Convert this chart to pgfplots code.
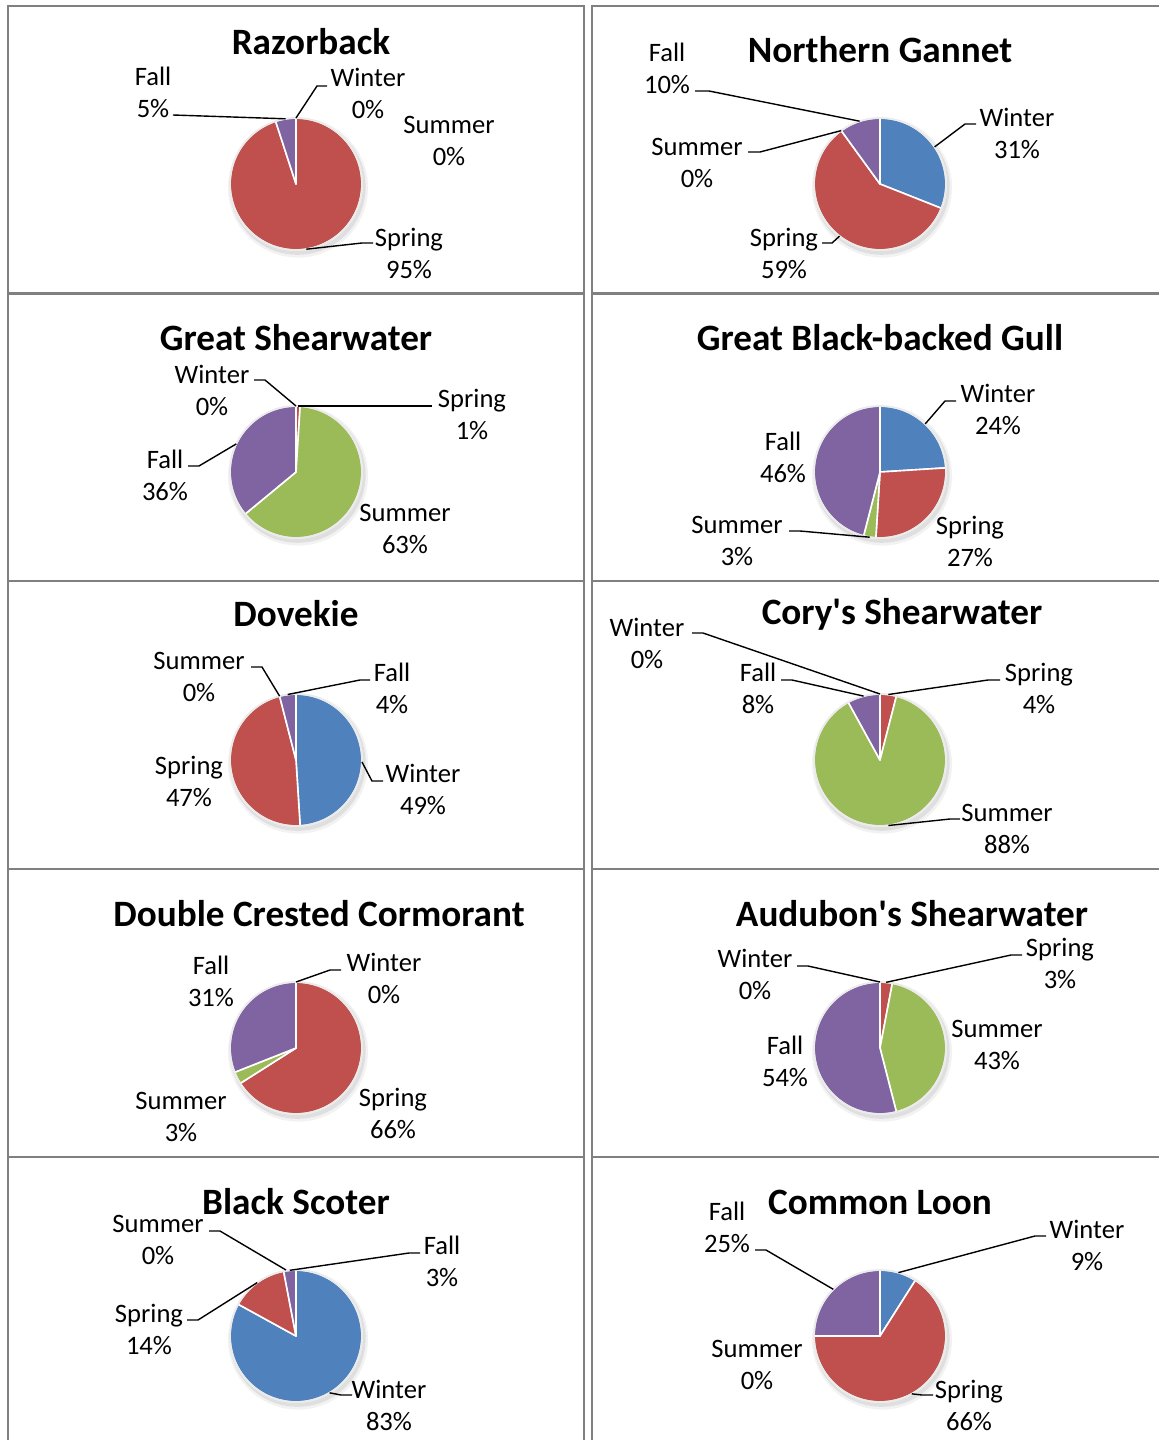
\documentclass[border=0pt]{standalone}
\usepackage{fontspec}
\setmainfont{Carlito}
\usepackage{pgfplots}
\pgfplotsset{compat=1.18}

\definecolor{winter}{HTML}{4F81BD}
\definecolor{spring}{HTML}{C0504D}
\definecolor{summer}{HTML}{9BBB59}
\definecolor{fall}{HTML}{8064A2}
\definecolor{frame}{RGB}{128,128,128}

\newcommand\lab{\fontsize{13.3}{16}\selectfont}
\newcommand\ttl{\fontsize{18.6}{22}\selectfont\bfseries}

% one slice: centre x, centre y, start (%), value (%), colour
\newcommand\slice[5]{%
  \ifdim #4pt>0pt
    \pgfmathsetmacro\angA{90-3.6*(#3+#4)}%
    \pgfmathsetmacro\angB{90-3.6*(#3)}%
    \edef\temp{\noexpand\addplot[fill=#5, draw=white, line width=0.8pt,
      line join=round, domain=\angA:\angB, samples=90]
      ({#1+66*cos(x)},{#2-66*sin(x)}) -- (axis cs:#1,#2) -- cycle;}%
    \temp
  \fi}

% pie: centre x, centre y, winter, spring, summer, fall (%)
\newcommand\pie[6]{%
  \fill[black, opacity=0.05] ([xshift=1pt,yshift=-1.8pt]axis cs:#1,#2) circle[radius=35pt];
  \fill[black, opacity=0.08] ([xshift=0.8pt,yshift=-1.4pt]axis cs:#1,#2) circle[radius=34pt];
  \slice{#1}{#2}{0}{#3}{winter}%
  \slice{#1}{#2}{#3}{#4}{spring}%
  \pgfmathsetmacro\cumC{#3+#4}%
  \slice{#1}{#2}{\cumC}{#5}{summer}%
  \pgfmathsetmacro\cumD{#3+#4+#5}%
  \slice{#1}{#2}{\cumD}{#6}{fall}%
  \draw[white!92!black, line width=0.9pt] (axis cs:#1,#2) circle[radius=33pt];
}

% cell frame: top y
\newcommand\cells[1]{%
  \draw[frame, line width=1pt] (axis cs:8,#1) rectangle (axis cs:584,#1+288);
  \draw[frame, line width=1pt] (axis cs:592,#1) rectangle (axis cs:1170,#1+288);}

\tikzset{ll/.style={black, line width=0.7pt},
         lb/.style={font=\lab, align=center, inner sep=0pt},
         tt/.style={font=\ttl, inner sep=0pt}}

\begin{document}
\begin{tikzpicture}
\begin{axis}[
    width=579pt, height=720pt, scale only axis,
    xmin=0, xmax=1158, ymin=0, ymax=1440, y dir=reverse,
    hide axis, clip=false,
]
\cells{6}\cells{293}\cells{581}\cells{869}\cells{1157}

% Razorback
\pie{296}{184}{0}{95}{0}{5}
\node[tt] at (axis cs:311,42) {Razorback};
\node[lb] at (axis cs:153,92) {Fall\\5\%};
\node[lb] at (axis cs:368,93) {Winter\\0\%};
\node[lb] at (axis cs:449,141) {Summer\\0\%};
\node[lb] at (axis cs:409,253) {Spring\\95\%};
\draw[ll] (axis cs:173,115) -- (axis cs:285.7,118.8);
\draw[ll] (axis cs:327,86) -- (axis cs:317,86) -- (axis cs:296,118);
\draw[ll] (axis cs:373,243) -- (axis cs:362,243) -- (axis cs:306.3,249.2);

% Northern Gannet
\pie{880}{184}{31}{59}{0}{10}
\node[tt] at (axis cs:880,50) {Northern Gannet};
\node[lb] at (axis cs:667,68) {Fall\\10\%};
\node[lb] at (axis cs:697,163) {Summer\\0\%};
\node[lb] at (axis cs:1017,133) {Winter\\31\%};
\node[lb] at (axis cs:784,253) {Spring\\59\%};
\draw[ll] (axis cs:695,91) -- (axis cs:709,91) -- (axis cs:859.6,121.2);
\draw[ll] (axis cs:748,152) -- (axis cs:760,152) -- (axis cs:841.2,130.6);
\draw[ll] (axis cs:976,124) -- (axis cs:965,124) -- (axis cs:934.6,146.9);
\draw[ll] (axis cs:822,243) -- (axis cs:832,243) -- (axis cs:839.5,236.2);

% Great Shearwater
\pie{296}{472}{0}{1}{63}{36}
\node[tt] at (axis cs:296,338) {Great Shearwater};
\node[lb] at (axis cs:212,390) {Winter\\0\%};
\node[lb] at (axis cs:472,414) {Spring\\1\%};
\node[lb] at (axis cs:165,475) {Fall\\36\%};
\node[lb] at (axis cs:405,529) {Summer\\63\%};
\draw[ll] (axis cs:254,380) -- (axis cs:265,380) -- (axis cs:296,406);
\draw[ll] (axis cs:432,406) -- (axis cs:298,406);
\draw[ll] (axis cs:188,466) -- (axis cs:199,466) -- (axis cs:236.3,443.9);

% Great Black-backed Gull
\pie{880}{472}{24}{27}{3}{46}
\node[tt] at (axis cs:880,338) {Great Black-backed Gull};
\node[lb] at (axis cs:998,409) {Winter\\24\%};
\node[lb] at (axis cs:783,457) {Fall\\46\%};
\node[lb] at (axis cs:737,541) {Summer\\3\%};
\node[lb] at (axis cs:970,541) {Spring\\27\%};
\draw[ll] (axis cs:956,401) -- (axis cs:945,401) -- (axis cs:925.2,423.9);
\draw[ll] (axis cs:789,531) -- (axis cs:800,531) -- (axis cs:869.7,537.2);

% Dovekie
\pie{296}{760}{49}{47}{0}{4}
\node[tt] at (axis cs:296,614) {Dovekie};
\node[lb] at (axis cs:199,677) {Summer\\0\%};
\node[lb] at (axis cs:392,688) {Fall\\4\%};
\node[lb] at (axis cs:189,781) {Spring\\47\%};
\node[lb] at (axis cs:423,789) {Winter\\49\%};
\draw[ll] (axis cs:251,667) -- (axis cs:262,667) -- (axis cs:279.6,696.1);
\draw[ll] (axis cs:370,680) -- (axis cs:360,680) -- (axis cs:287.7,694.5);
\draw[ll] (axis cs:383,781) -- (axis cs:372,781) -- (axis cs:362,762);

% Cory's Shearwater
\pie{880}{760}{0}{4}{88}{8}
\node[tt] at (axis cs:902,614) {Cory\textquotesingle s Shearwater};
\node[lb] at (axis cs:647,643) {Winter\\0\%};
\node[lb] at (axis cs:758,688) {Fall\\8\%};
\node[lb] at (axis cs:1039,688) {Spring\\4\%};
\node[lb] at (axis cs:1007,829) {Summer\\88\%};
\draw[ll] (axis cs:692,633) -- (axis cs:703,633) -- (axis cs:880,694);
\draw[ll] (axis cs:781,680) -- (axis cs:792,680) -- (axis cs:863.6,696.1);
\draw[ll] (axis cs:1000,680) -- (axis cs:988,680) -- (axis cs:888.3,694.5);
\draw[ll] (axis cs:960,819) -- (axis cs:950,819) -- (axis cs:888.3,825.5);

% Double Crested Cormorant
\pie{296}{1048}{0}{66}{3}{31}
\node[tt] at (axis cs:319,914) {Double Crested Cormorant};
\node[lb] at (axis cs:211,981) {Fall\\31\%};
\node[lb] at (axis cs:384,978) {Winter\\0\%};
\node[lb] at (axis cs:181,1117) {Summer\\3\%};
\node[lb] at (axis cs:393,1113) {Spring\\66\%};
\draw[ll] (axis cs:341,970) -- (axis cs:330,970) -- (axis cs:296,982);

% Audubon's Shearwater
\pie{880}{1048}{0}{3}{43}{54}
\node[tt] at (axis cs:912,914) {Audubon\textquotesingle s Shearwater};
\node[lb] at (axis cs:755,974) {Winter\\0\%};
\node[lb] at (axis cs:1060,963) {Spring\\3\%};
\node[lb] at (axis cs:997,1045) {Summer\\43\%};
\node[lb] at (axis cs:785,1061) {Fall\\54\%};
\draw[ll] (axis cs:797,966) -- (axis cs:808,966) -- (axis cs:880,982);
\draw[ll] (axis cs:1022,955) -- (axis cs:1011,955) -- (axis cs:886.2,982.3);

% Black Scoter
\pie{296}{1336}{83}{14}{0}{3}
\node[tt] at (axis cs:296,1202) {Black Scoter};
\node[lb] at (axis cs:158,1240) {Summer\\0\%};
\node[lb] at (axis cs:442,1261) {Fall\\3\%};
\node[lb] at (axis cs:149,1329) {Spring\\14\%};
\node[lb] at (axis cs:389,1405) {Winter\\83\%};
\draw[ll] (axis cs:209,1231) -- (axis cs:220,1231) -- (axis cs:286,1270);
\draw[ll] (axis cs:420,1253) -- (axis cs:409,1253) -- (axis cs:289.8,1270.3);
\draw[ll] (axis cs:187,1320) -- (axis cs:198,1320) -- (axis cs:257.2,1282.6);
\draw[ll] (axis cs:352,1395) -- (axis cs:341,1395) -- (axis cs:329.6,1392.8);

% Common Loon
\pie{880}{1336}{9}{66}{0}{25}
\node[tt] at (axis cs:880,1202) {Common Loon};
\node[lb] at (axis cs:727,1227) {Fall\\25\%};
\node[lb] at (axis cs:1087,1245) {Winter\\9\%};
\node[lb] at (axis cs:757,1365) {Summer\\0\%};
\node[lb] at (axis cs:969,1405) {Spring\\66\%};
\draw[ll] (axis cs:755,1250) -- (axis cs:766,1250) -- (axis cs:833.3,1289.3);
\draw[ll] (axis cs:1046,1236) -- (axis cs:1035,1236) -- (axis cs:898.4,1272.6);
\draw[ll] (axis cs:933,1395) -- (axis cs:922,1395) -- (axis cs:911.8,1393.8);
\end{axis}
\pgfresetboundingbox
\path (current axis.south west) rectangle (current axis.north east);
\end{tikzpicture}
\end{document}
